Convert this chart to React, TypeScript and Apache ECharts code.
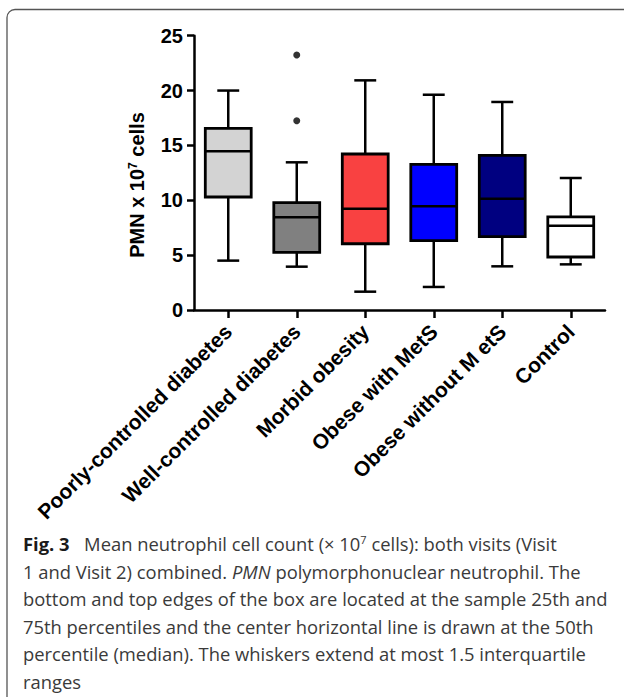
import React, { useEffect, useRef } from 'react';
import * as echarts from 'echarts';

const categories = [
  'Poorly-controlled diabetes',
  'Well-controlled diabetes',
  'Morbid obesity',
  'Obese with MetS',
  'Obese without M etS',
  'Control',
];
const whiskerLow = [4.5, 3.95, 1.67, 2.1, 3.98, 4.16];
const q1 = [10.3, 5.26, 6.04, 6.32, 6.68, 4.83];
const median = [14.46, 8.45, 9.23, 9.45, 10.15, 7.69];
const q3 = [16.56, 9.78, 14.22, 13.28, 14.1, 8.48];
const whiskerHigh = [20.0, 13.46, 20.93, 19.62, 18.96, 12.03];
const boxColors = ['#d3d3d3', '#808080', '#f94141', '#0000ff', '#000080', '#ffffff'];
const outliers = [
  [1, 23.24],
  [1, 17.25],
];
const yMin = 0;
const yMax = 25;
const yInterval = 5;
const yAxisTitle = 'PMN x 10{s|7} cells';

const captionLines = [
  '{b|Fig. 3}  Mean neutrophil cell count (× 10{s|7} cells): both visits (Visit',
  '1 and Visit 2) combined. {i|PMN} polymorphonuclear neutrophil. The',
  'bottom and top edges of the box are located at the sample 25th and',
  '75th percentiles and the center horizontal line is drawn at the 50th',
  'percentile (median). The whiskers extend at most 1.5 interquartile',
  'ranges',
];

const CAP_FONT = '"Open Sans", "Noto Sans", sans-serif';
const AX_FONT = '"Liberation Sans", Arial, sans-serif';

export default function App() {
  const ref = useRef<HTMLDivElement>(null);
  useEffect(() => {
    document.body.style.margin = '0';
    if (!ref.current) return;
    const chart = echarts.init(ref.current, undefined, { renderer: 'svg' });

    // fit caption font size to the reference line width
    let capSize = 17;
    try {
      const ctx = document.createElement('canvas').getContext('2d');
      if (ctx) {
        ctx.font = `100px ${CAP_FONT}`;
        const w = ctx.measureText(captionLines[2]).width;
        if (w > 0) capSize = (100 * 585) / w;
      }
    } catch (e) {}

    const capTop0 = 543.5;
    const capStep = 27.5;
    const captionGraphics = captionLines.map((t, k) => ({
      type: 'text',
      x: 23,
      y: capTop0 + k * capStep,
      silent: true,
      style: {
        text: t,
        fontFamily: CAP_FONT,
        fontSize: capSize,
        fill: '#3a3a3a',
        verticalAlign: 'middle',
        lineHeight: capSize,
        rich: {
          b: {
            fontFamily: CAP_FONT,
            fontSize: capSize,
            fontWeight: 'bold',
            fill: '#1a1a1a',
            lineHeight: capSize,
            padding: [0, 5, 0, 0],
          },
          i: { fontFamily: CAP_FONT, fontSize: capSize, fontStyle: 'italic', fill: '#3a3a3a', lineHeight: capSize },
          s: { fontFamily: CAP_FONT, fontSize: capSize * 0.6, fill: '#3a3a3a', verticalAlign: 'top', lineHeight: capSize },
        },
      },
    }));

    const boxData = categories.map((c, i) => [i, whiskerLow[i], q1[i], median[i], q3[i], whiskerHigh[i]]);

    chart.setOption({
      animation: false,
      backgroundColor: '#ffffff',
      grid: { left: 194, right: 19, top: 35.7, bottom: 387, containLabel: false },
      xAxis: {
        type: 'category',
        data: categories,
        boundaryGap: true,
        axisLine: { show: true, lineStyle: { color: '#000', width: 2.5 } },
        axisTick: { show: true, alignWithLabel: true, length: 8, lineStyle: { color: '#000', width: 2.5 } },
        axisLabel: {
          interval: 0,
          rotate: 45,
          margin: 18,
          color: '#000',
          fontFamily: AX_FONT,
          fontWeight: 'bold',
          fontSize: 21,
        },
        splitLine: { show: false },
      },
      yAxis: {
        type: 'value',
        min: yMin,
        max: yMax,
        interval: yInterval,
        axisLine: { show: true, lineStyle: { color: '#000', width: 2.5 } },
        axisTick: { show: true, length: 7, lineStyle: { color: '#000', width: 2.5 } },
        axisLabel: {
          margin: 11,
          color: '#000',
          fontFamily: AX_FONT,
          fontWeight: 'bold',
          fontSize: 20,
        },
        splitLine: { show: false },
      },
      series: [
        {
          type: 'custom',
          data: boxData,
          encode: { x: 0, y: [1, 2, 3, 4, 5] },
          renderItem: (params: any, api: any) => {
            const i = api.value(0);
            const lo = api.coord([i, api.value(1)]);
            const b1 = api.coord([i, api.value(2)]);
            const md = api.coord([i, api.value(3)]);
            const b3 = api.coord([i, api.value(4)]);
            const hi = api.coord([i, api.value(5)]);
            const band = api.size([1, 0])[0];
            const bw = band * 0.67;
            const cw = band * 0.32;
            const x = lo[0];
            const ls = { stroke: '#000', lineWidth: 2.5 };
            return {
              type: 'group',
              children: [
                { type: 'line', shape: { x1: x, y1: hi[1], x2: x, y2: b3[1] }, style: ls },
                { type: 'line', shape: { x1: x, y1: b1[1], x2: x, y2: lo[1] }, style: ls },
                { type: 'line', shape: { x1: x - cw / 2, y1: hi[1], x2: x + cw / 2, y2: hi[1] }, style: ls },
                { type: 'line', shape: { x1: x - cw / 2, y1: lo[1], x2: x + cw / 2, y2: lo[1] }, style: ls },
                {
                  type: 'rect',
                  shape: { x: x - bw / 2, y: b3[1], width: bw, height: b1[1] - b3[1] },
                  style: { fill: boxColors[params.dataIndex], stroke: '#000', lineWidth: 2.8 },
                },
                { type: 'line', shape: { x1: x - bw / 2, y1: md[1], x2: x + bw / 2, y2: md[1] }, style: ls },
              ],
            };
          },
          z: 3,
        },
        {
          type: 'scatter',
          data: outliers,
          symbol: 'circle',
          symbolSize: 7,
          itemStyle: { color: '#000' },
          z: 4,
        },
      ],
      graphic: [
        {
          type: 'rect',
          silent: true,
          shape: { x: 7, y: 9.5, width: 700, height: 800, r: [8, 0, 0, 0] },
          style: { fill: 'none', stroke: '#555', lineWidth: 1.3 },
        },
        {
          type: 'text',
          silent: true,
          x: 137,
          y: 185,
          rotation: Math.PI / 2,
          style: {
            text: yAxisTitle,
            fontFamily: AX_FONT,
            fontWeight: 'bold',
            fontSize: 20,
            fill: '#000',
            align: 'center',
            verticalAlign: 'middle',
            lineHeight: 20,
            rich: {
              s: { fontFamily: AX_FONT, fontWeight: 'bold', fontSize: 12, fill: '#000', verticalAlign: 'top', lineHeight: 20 },
            },
          },
        },
        ...captionGraphics,
      ],
    });
    return () => chart.dispose();
  }, []);
  return <div ref={ref} style={{ width: 624, height: 697 }} />;
}
